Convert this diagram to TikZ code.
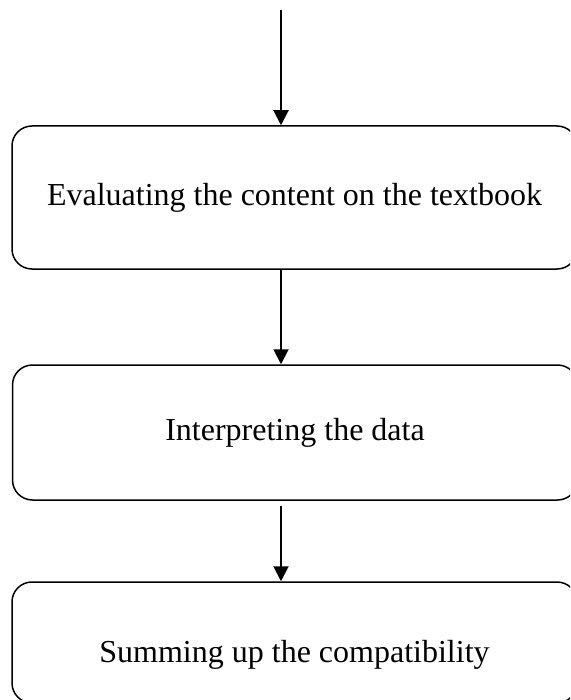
\documentclass[tikz,border=0pt]{standalone}
\usepackage{fontspec}
\setmainfont{Liberation Serif}
\usetikzlibrary{arrows.meta}
\tikzset{>={Triangle[width=15pt,length=15pt]}}
\tikzset{stagetext/.style={font=\fontsize{32}{38}\selectfont},
  stage/.style={draw,line width=1.5pt,rounded corners=20pt,minimum width=565pt,inner sep=0pt,stagetext},
  flow/.style={->,line width=2pt}}

\begin{document}
\begin{tikzpicture}[x=1pt,y=-1pt]
  \useasboundingbox (0,0) rectangle (570,700);
  \clip (0,0) rectangle (570,700);
  % stages
  \node[stage,minimum height=143pt] (eval) at (294.5,197.5) {Evaluating the content on the textbook};
  \node[stage,minimum height=135pt] (interp) at (295,432.5) {Interpreting the data};
  \node[stage,minimum height=121pt,label={[stagetext,yshift=-12pt]center:Summing up the compatibility}] (sum) at (294.5,642.5) {};
  % arrows
  \coordinate (start) at (281,10);
  \coordinate (gap) at ([yshift=-5pt]interp.south);
  \draw[flow] (start) -- (start |- eval.north);
  \draw[flow] (start |- eval.south) -- (start |- interp.north);
  \draw[flow] (start |- gap) -- (start |- sum.north);
\end{tikzpicture}
\end{document}
